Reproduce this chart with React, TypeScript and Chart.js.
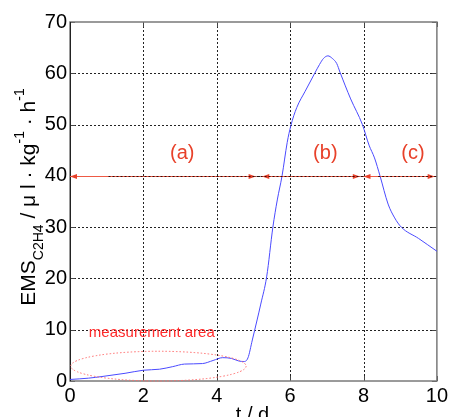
import React, { useEffect, useRef } from "react";
import { Chart, registerables } from "chart.js";

Chart.register(...registerables);

// ---- data ----
const T_DAYS = [0, 0.5, 0.9, 1.5, 2.0, 2.44, 2.8, 3.12, 3.61, 3.9, 4.16, 4.4, 4.6, 4.74, 4.85, 4.97, 5.1, 5.2, 5.36, 5.53, 5.65, 5.78, 5.92, 6.02, 6.18, 6.41, 6.67, 6.8, 6.91, 7.03, 7.15, 7.27, 7.36, 7.65, 7.97, 8.15, 8.3, 8.45, 8.67, 8.85, 9.03, 9.5, 10];
const EMS_VALUES = [0.3, 0.55, 0.9, 1.5, 2.1, 2.3, 2.8, 3.3, 3.4, 4.0, 4.55, 4.4, 3.9, 3.8, 4.5, 8.0, 11.9, 15.0, 20.3, 30.0, 35.3, 40.0, 46.5, 49.8, 53.3, 56.5, 60.0, 61.7, 62.9, 63.4, 62.9, 61.9, 60.2, 55.0, 50.0, 46.0, 43.5, 40.0, 34.5, 31.8, 30.0, 27.8, 25.3];

const X_TICKS = [0, 2, 4, 6, 8, 10];
const Y_TICKS = [0, 10, 20, 30, 40, 50, 60, 70];

const PHASE_SEGMENTS = [[0, 5.06], [5.24, 7.9], [8.0, 9.94]];
const PHASE_LEVEL = 40;
const PHASE_LABELS = ["(a)", "(b)", "(c)"];
const PHASE_LABEL_X = [3.06, 6.96, 9.35];
const PHASE_LABEL_Y = 44.4;

const AREA_CENTER = [2.41, 2.9];
const AREA_RADII = [2.39, 2.9];
const AREA_TEXT = "measurement area";
const AREA_TEXT_POS = [2.23, 8.6];

const X_TITLE = "t / d";

const FONT = 'Arial, "Liberation Sans", sans-serif';

const decorPlugin = {
  id: "decor",
  beforeDatasetsDraw(chart: any) {
    const { ctx, chartArea: a, scales } = chart;
    const xs = scales.x, ys = scales.y;
    ctx.save();
    // dotted grid
    ctx.strokeStyle = "#222";
    ctx.lineWidth = 1;
    ctx.setLineDash([2, 2]);
    X_TICKS.forEach((v) => {
      if (v === 0 || v === 10) return;
      const px = Math.round(xs.getPixelForValue(v)) + 0.5;
      ctx.beginPath();
      ctx.moveTo(px, a.top);
      ctx.lineTo(px, a.bottom);
      ctx.stroke();
    });
    Y_TICKS.forEach((v) => {
      if (v === 0 || v === 70) return;
      const py = Math.round(ys.getPixelForValue(v)) + 0.5;
      ctx.beginPath();
      ctx.moveTo(a.left, py);
      ctx.lineTo(a.right, py);
      ctx.stroke();
    });
    ctx.setLineDash([]);
    // tick marks (inward)
    ctx.strokeStyle = "#444";
    X_TICKS.forEach((v) => {
      const px = Math.round(xs.getPixelForValue(v)) + 0.5;
      ctx.beginPath();
      ctx.moveTo(px, a.bottom);
      ctx.lineTo(px, a.bottom - 5);
      ctx.moveTo(px, a.top);
      ctx.lineTo(px, a.top + 5);
      ctx.stroke();
    });
    Y_TICKS.forEach((v) => {
      const py = Math.round(ys.getPixelForValue(v)) + 0.5;
      ctx.beginPath();
      ctx.moveTo(a.left, py);
      ctx.lineTo(a.left + 5, py);
      ctx.moveTo(a.right, py);
      ctx.lineTo(a.right - 5, py);
      ctx.stroke();
    });
    // box
    ctx.strokeStyle = "#7a7a7a";
    ctx.lineWidth = 1.5;
    ctx.strokeRect(a.left, a.top, a.right - a.left, a.bottom - a.top);
    ctx.strokeStyle = "#222";
    ctx.lineWidth = 1;
    ctx.beginPath();
    ctx.moveTo(Math.round(a.left) + 0.5, a.top);
    ctx.lineTo(Math.round(a.left) + 0.5, a.bottom);
    ctx.stroke();
    ctx.restore();
  },
  afterDatasetsDraw(chart: any) {
    const { ctx, scales } = chart;
    const xs = scales.x, ys = scales.y;
    ctx.save();
    // ellipse
    const cx = xs.getPixelForValue(AREA_CENTER[0]);
    const cy = ys.getPixelForValue(AREA_CENTER[1]);
    const rx = xs.getPixelForValue(AREA_CENTER[0] + AREA_RADII[0]) - cx;
    const ry = cy - ys.getPixelForValue(AREA_CENTER[1] + AREA_RADII[1]);
    ctx.strokeStyle = "#ff6a6a";
    ctx.lineWidth = 1;
    ctx.setLineDash([1.5, 2]);
    ctx.beginPath();
    ctx.ellipse(cx, cy, rx, ry, 0, 0, Math.PI * 2);
    ctx.stroke();
    ctx.setLineDash([]);
    // measurement text
    ctx.fillStyle = "#ff2a2a";
    ctx.font = `15px ${FONT}`;
    ctx.textAlign = "center";
    ctx.textBaseline = "alphabetic";
    ctx.fillText(AREA_TEXT, xs.getPixelForValue(AREA_TEXT_POS[0]), ys.getPixelForValue(AREA_TEXT_POS[1]));
    // phase arrows
    const py = Math.round(ys.getPixelForValue(PHASE_LEVEL)) + 0.5;
    const red = "#ee5a45";
    PHASE_SEGMENTS.forEach(([s, e]) => {
      const x0 = xs.getPixelForValue(s), x1 = xs.getPixelForValue(e);
      ctx.strokeStyle = red;
      ctx.lineWidth = 1;
      ctx.beginPath();
      ctx.moveTo(x0, py);
      ctx.lineTo(x1, py);
      ctx.stroke();
      ctx.fillStyle = "#e8412a";
      [[x0, 1], [x1, -1]].forEach(([x, d]) => {
        ctx.beginPath();
        ctx.moveTo(x, py);
        ctx.lineTo(x + d * 7, py - 2.5);
        ctx.lineTo(x + d * 7, py + 2.5);
        ctx.closePath();
        ctx.fill();
      });
    });
    // dotted overlay (grid over arrow)
    ctx.strokeStyle = "#3a0804";
    ctx.setLineDash([2, 2]);
    [[1.05, 8.0], [8.4, 10]].forEach(([s, e]) => {
      ctx.beginPath();
      ctx.moveTo(xs.getPixelForValue(s), py);
      ctx.lineTo(xs.getPixelForValue(e), py);
      ctx.stroke();
    });
    ctx.setLineDash([]);
    // phase labels
    ctx.fillStyle = "#e8412a";
    ctx.font = `20px ${FONT}`;
    ctx.textAlign = "center";
    ctx.textBaseline = "middle";
    PHASE_LABELS.forEach((lab, i) => {
      ctx.fillText(lab, xs.getPixelForValue(PHASE_LABEL_X[i]), ys.getPixelForValue(PHASE_LABEL_Y));
    });
    ctx.restore();
  },
  afterDraw(chart: any) {
    const { ctx, chartArea: a } = chart;
    ctx.save();
    ctx.fillStyle = "#000";
    // x title
    ctx.font = `20px ${FONT}`;
    ctx.textAlign = "center";
    ctx.textBaseline = "alphabetic";
    ctx.fillText(X_TITLE, (a.left + a.right) / 2 - 1, 421);
    // y title with sub/superscripts
    const big = `21px ${FONT}`;
    const small = `14px ${FONT}`;
    const parts: [string, string, number][] = [
      ["EMS", big, 0],
      ["C2H4", small, 8],
      [" / \u03bc l \u00b7 kg", big, 0],
      ["-1", small, -11],
      [" \u00b7 h", big, 0],
      ["-1", small, -11],
    ];
    let total = 0;
    parts.forEach(([t, f]) => {
      ctx.font = f;
      total += ctx.measureText(t).width;
    });
    ctx.translate(35, 197);
    ctx.rotate(-Math.PI / 2);
    ctx.textAlign = "left";
    let x = -total / 2;
    parts.forEach(([t, f, dy]) => {
      ctx.font = f;
      ctx.fillText(t, x, dy);
      x += ctx.measureText(t).width;
    });
    ctx.restore();
  },
};

export default function App() {
  const ref = useRef<HTMLCanvasElement>(null);
  useEffect(() => {
    if (!ref.current) return;
    const chart = new Chart(ref.current, {
      type: "line",
      data: {
        datasets: [
          {
            data: T_DAYS.map((t, i) => ({ x: t, y: EMS_VALUES[i] })),
            borderColor: "#4a4aff",
            borderWidth: 1,
            pointRadius: 0,
            fill: false,
            cubicInterpolationMode: "monotone",
          },
        ],
      },
      options: {
        animation: false,
        responsive: false,
        maintainAspectRatio: false,
        layout: { padding: { left: 0, top: 22, right: 12, bottom: 0 } },
        plugins: { legend: { display: false }, tooltip: { enabled: false } },
        scales: {
          x: {
            type: "linear",
            min: 0,
            max: 10,
            grid: { display: false, drawTicks: false },
            border: { display: false },
            afterBuildTicks: (s: any) => {
              s.ticks = X_TICKS.map((v) => ({ value: v }));
            },
            afterFit: (s: any) => {
              s.height = 36;
            },
            ticks: { color: "#000", font: { family: FONT, size: 20 }, padding: 3, maxRotation: 0 },
          },
          y: {
            type: "linear",
            min: 0,
            max: 70,
            grid: { display: false, drawTicks: false },
            border: { display: false },
            afterBuildTicks: (s: any) => {
              s.ticks = Y_TICKS.map((v) => ({ value: v }));
            },
            afterFit: (s: any) => {
              s.width = 70;
            },
            ticks: { color: "#000", font: { family: FONT, size: 20 }, padding: 3 },
          },
        },
      },
      plugins: [decorPlugin],
    } as any);
    return () => chart.destroy();
  }, []);
  return (
    <div style={{ position: "fixed", left: 0, top: 0, width: 451, height: 417, background: "#fff" }}>
      <canvas ref={ref} width={451} height={417} style={{ width: 451, height: 417 }} />
    </div>
  );
}
